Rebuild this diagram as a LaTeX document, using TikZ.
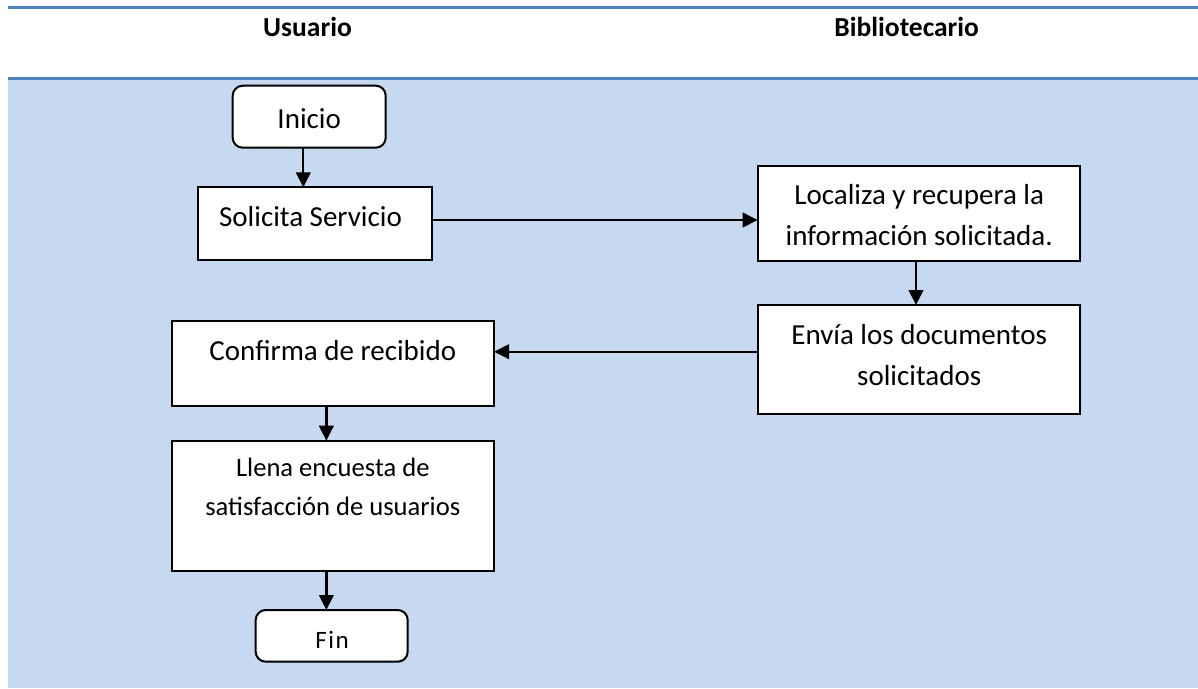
\documentclass[tikz,border=0pt]{standalone}
\usepackage{fontspec}
\setmainfont{Carlito}
\usetikzlibrary{arrows.meta}
\definecolor{laneblue}{HTML}{4F81BD}
\definecolor{lanefill}{HTML}{C6D9F1}
\tikzset{
  box/.style={draw=black, line width=2pt, fill=white, inner sep=0pt, outer sep=0pt},
  txt/.style={inner sep=0pt, align=center, font=\fontsize{29}{41}\selectfont},
  smalltxt/.style={inner sep=0pt, align=center, font=\fontsize{26.6}{38.5}\selectfont},
  fintxt/.style={inner sep=0pt, font=\fontsize{25}{30}\selectfont},
  hdr/.style={inner sep=0pt, font=\bfseries\fontsize{27.5}{33}\selectfont},
  arr/.style={draw=black, line width=2.3pt, -{Triangle[length=15pt,width=14.5pt]}},
  laneline/.style={draw=laneblue, line width=2.6pt}
}
\begin{document}
\begin{tikzpicture}[x=1pt,y=-1pt]
\useasboundingbox (0,0) rectangle (1198,688);
% lanes
\fill[lanefill] (8,78.3) rectangle (1198,688);
\draw[laneline] (8,7.3) -- (1198,7.3);
\draw[laneline] (8,78.3) -- (1198,78.3);
\node[hdr, anchor=base] (usu) at (307.5,36.7) {Usuario};
\node[hdr, anchor=base] (bib) at (906.7,36.7) {Bibliotecario};
% boxes
\node[box, rounded corners=10pt, minimum width=153pt, minimum height=62pt] (ini) at (309.2,116.7) {};
\node[txt, anchor=base] (ini-t) at (309.2,128.3) {Inicio};
\node[box, minimum width=234.6pt, minimum height=72.7pt] (sol) at (315,223.7) {};
\node[txt, anchor=base] (sol-t) at (310.5,226.7) {Solicita Servicio};
\node[box, minimum width=322.6pt, minimum height=95pt] (loc) at (919,213.2) {};
\node[txt] (loc-t) at (919.2,216.3) {\strut Localiza y recupera la\\\strut información solicitada.};
\node[box, minimum width=322.6pt, minimum height=109pt] (env) at (919,359.5) {};
\node[txt] (env-t) at (919.2,356.5) {\strut Envía los documentos\\\strut solicitados};
\node[box, minimum width=322.3pt, minimum height=84.7pt] (conf) at (332.85,363.35) {};
\node[txt, anchor=base] (conf-t) at (332.8,360) {Confirma de recibido};
\node[box, minimum width=322.3pt, minimum height=130pt] (lle) at (332.85,505.7) {};
\node[smalltxt] (lle-t) at (332.8,488.2) {\strut Llena encuesta de\\\strut satisfacción de usuarios};
\node[box, rounded corners=10pt, minimum width=152pt, minimum height=51.7pt] (fin) at (331.7,635.85) {};
\node[fintxt, anchor=base] (fin-t) at (332,648.3) {F\kern1.5pt i\kern1.5pt n};
% connectors
\draw[arr] ([xshift=-5.9pt]ini.south) coordinate (a0) -- (a0 |- sol.north);
\draw[arr] ([yshift=3.7pt]sol.east) coordinate (a1) -- (a1 -| loc.west);
\draw[arr] ([xshift=-3pt]loc.south) coordinate (a2) -- (a2 |- env.north);
\draw[arr] ([yshift=7.8pt]env.west) coordinate (a3) -- (a3 -| conf.east);
\draw[arr] ([xshift=-6.5pt]conf.south) coordinate (a4) -- (a4 |- lle.north);
\draw[arr] ([xshift=-6.5pt]lle.south) coordinate (a5) -- (a5 |- fin.north);
\end{tikzpicture}
\end{document}
